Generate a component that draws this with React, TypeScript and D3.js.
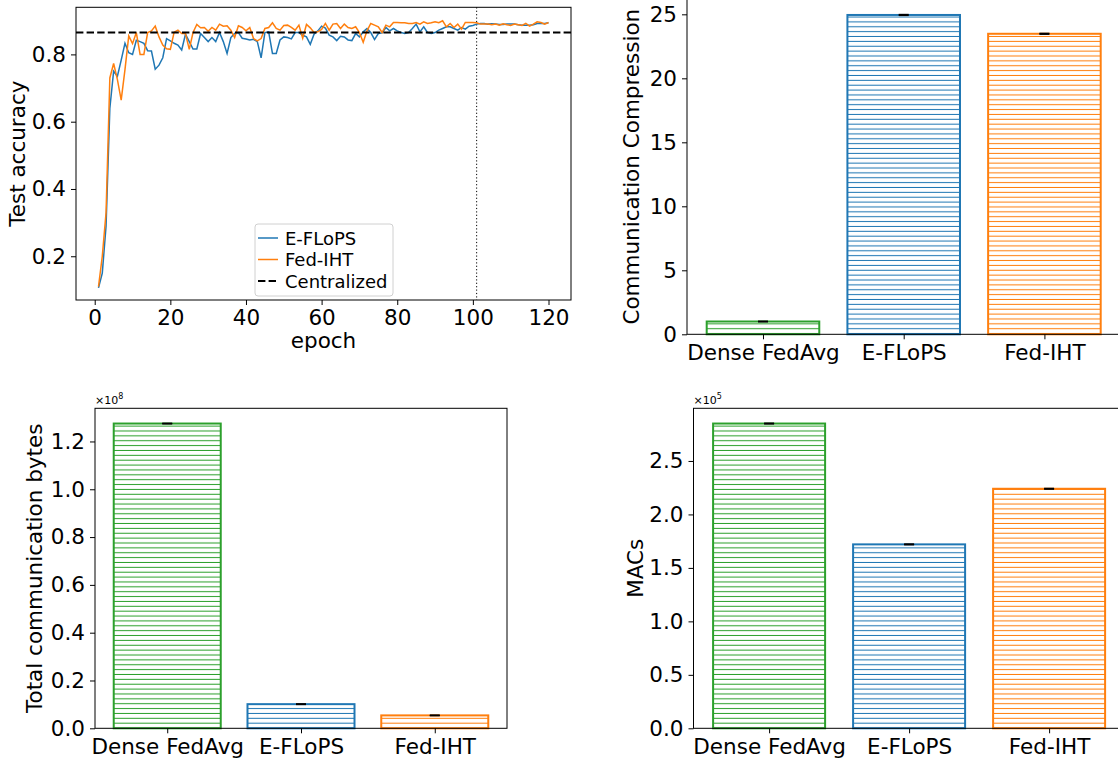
import React, { useEffect, useRef } from 'react';
import * as d3 from 'd3';

// accuracy per epoch (1..120)
const epochs = d3.range(1, 121);
const eflopsAcc = [
  0.106, 0.15, 0.29, 0.64, 0.75, 0.735, 0.783, 0.833, 0.805, 0.80,
  0.842, 0.838, 0.833, 0.811, 0.81, 0.756, 0.768, 0.79, 0.847, 0.84,
  0.833, 0.828, 0.813, 0.86, 0.838, 0.816, 0.816, 0.862, 0.85, 0.838,
  0.85, 0.838, 0.865, 0.838, 0.803, 0.85, 0.862, 0.865, 0.848, 0.846,
  0.843, 0.845, 0.838, 0.79, 0.865, 0.867, 0.803, 0.803, 0.843, 0.852,
  0.85, 0.846, 0.865, 0.865, 0.857, 0.852, 0.83, 0.86, 0.87, 0.884,
  0.878, 0.857, 0.852, 0.841, 0.854, 0.852, 0.843, 0.841, 0.862, 0.852,
  0.867, 0.877, 0.865, 0.844, 0.862, 0.864, 0.88, 0.87, 0.877, 0.87,
  0.865, 0.862, 0.865, 0.877, 0.89, 0.867, 0.882, 0.865, 0.862, 0.865,
  0.872, 0.877, 0.882, 0.882, 0.877, 0.872, 0.88, 0.875, 0.884, 0.886,
  0.89, 0.892, 0.892, 0.89, 0.891, 0.89, 0.889, 0.889, 0.89, 0.89,
  0.89, 0.888, 0.887, 0.887, 0.887, 0.888, 0.892, 0.892, 0.892, 0.894
];
const fedIhtAcc = [
  0.11, 0.20, 0.33, 0.73, 0.773, 0.725, 0.664, 0.755, 0.855, 0.832,
  0.865, 0.80, 0.80, 0.865, 0.87, 0.884, 0.852, 0.828, 0.817, 0.815,
  0.866, 0.872, 0.862, 0.862, 0.815, 0.865, 0.889, 0.879, 0.88, 0.869,
  0.88, 0.872, 0.89, 0.884, 0.885, 0.872, 0.85, 0.885, 0.88, 0.87,
  0.88, 0.847, 0.84, 0.847, 0.877, 0.88, 0.894, 0.877, 0.872, 0.886,
  0.887, 0.88, 0.872, 0.887, 0.848, 0.889, 0.879, 0.865, 0.867, 0.874,
  0.892, 0.872, 0.89, 0.892, 0.877, 0.89, 0.88, 0.877, 0.882, 0.865,
  0.836, 0.87, 0.892, 0.887, 0.882, 0.865, 0.887, 0.882, 0.895, 0.895,
  0.894, 0.894, 0.892, 0.892, 0.895, 0.89, 0.897, 0.892, 0.894, 0.897,
  0.894, 0.9, 0.882, 0.892, 0.88, 0.89, 0.875, 0.895, 0.895, 0.895,
  0.894, 0.89, 0.89, 0.89, 0.888, 0.89, 0.887, 0.891, 0.888, 0.886,
  0.89, 0.888, 0.886, 0.892, 0.884, 0.89, 0.897, 0.895, 0.89, 0.895
];
const centralizedAcc = 0.865;
const markerEpoch = 101;
const accTicks = [0.2, 0.4, 0.6, 0.8];
const epochTicks = [0, 20, 40, 60, 80, 100, 120];

const methods = ['Dense FedAvg', 'E-FLoPS', 'Fed-IHT'];
const methodColors = ['#2ca02c', '#1f77b4', '#ff7f0e'];
const compression = [1.0, 24.95, 23.48];
const compressionErr = [0.02, 0.03, 0.03];
const compressionTicks = [0, 5, 10, 15, 20, 25];
const totalBytes = [1.275e8, 0.101e8, 0.054e8];
const bytesErr = [0.001e8, 0.001e8, 0.001e8];
const bytesTicks = [0, 0.2e8, 0.4e8, 0.6e8, 0.8e8, 1.0e8, 1.2e8];
const macs = [2.85e5, 1.72e5, 2.24e5];
const macsErr = [0.003e5, 0.003e5, 0.003e5];
const macsTicks = [0, 0.5e5, 1.0e5, 1.5e5, 2.0e5, 2.5e5];

const FONT = 'DejaVu Sans, sans-serif';
const FS = 21.5;

function styleAxis(g) {
  g.select('.domain').remove();
  g.selectAll('line').attr('stroke', '#000').attr('stroke-width', 1);
  g.selectAll('text').attr('font-size', FS).attr('font-family', FONT).attr('fill', '#000');
}

function spines(g, left, right, top, bottom) {
  g.append('rect')
    .attr('x', left).attr('y', top)
    .attr('width', right - left).attr('height', bottom - top)
    .attr('fill', 'none').attr('stroke', '#000').attr('stroke-width', 1);
}

function drawAccuracy(svg) {
  const left = 76, right = 571, top = 7.3, bottom = 300;
  const x = d3.scaleLinear().domain([-4.95, 125.95]).range([left, right]);
  const y = d3.scaleLinear().domain([0.07, 0.94]).range([bottom, top]);
  const g = svg.append('g');

  g.append('line')
    .attr('x1', x(markerEpoch)).attr('x2', x(markerEpoch))
    .attr('y1', top).attr('y2', bottom)
    .attr('stroke', '#000').attr('stroke-width', 1).attr('stroke-dasharray', '1.2,2.2');

  const line = d3.line().x((d, i) => x(epochs[i])).y(d => y(d));
  g.append('path').datum(eflopsAcc).attr('d', line)
    .attr('fill', 'none').attr('stroke', '#1f77b4').attr('stroke-width', 1.5);
  g.append('path').datum(fedIhtAcc).attr('d', line)
    .attr('fill', 'none').attr('stroke', '#ff7f0e').attr('stroke-width', 1.5);

  g.append('line')
    .attr('x1', left).attr('x2', right)
    .attr('y1', y(centralizedAcc)).attr('y2', y(centralizedAcc))
    .attr('stroke', '#000').attr('stroke-width', 2).attr('stroke-dasharray', '7.4,3.2');

  g.append('g').attr('transform', 'translate(0,' + bottom + ')')
    .call(d3.axisBottom(x).tickValues(epochTicks).tickSize(5).tickPadding(5).tickFormat(d3.format('d')))
    .call(styleAxis);
  g.append('g').attr('transform', 'translate(' + left + ',0)')
    .call(d3.axisLeft(y).tickValues(accTicks).tickSize(5).tickPadding(5).tickFormat(d3.format('.1f')))
    .call(styleAxis);

  spines(g, left, right, top, bottom);

  g.append('text').attr('transform', 'translate(25,' + (top + bottom) / 2 + ') rotate(-90)')
    .attr('text-anchor', 'middle').attr('font-size', FS).attr('font-family', FONT).text('Test accuracy');
  g.append('text').attr('x', (left + right) / 2).attr('y', 348)
    .attr('text-anchor', 'middle').attr('font-size', FS).attr('font-family', FONT).text('epoch');

  // legend
  const lg = g.append('g');
  lg.append('rect').attr('x', 255).attr('y', 224).attr('width', 138).attr('height', 72).attr('rx', 3)
    .attr('fill', '#fff').attr('fill-opacity', 0.8).attr('stroke', '#d0d0d0').attr('stroke-width', 1);
  const items = [
    { label: 'E-FLoPS', color: '#1f77b4', dash: null, w: 1.5 },
    { label: 'Fed-IHT', color: '#ff7f0e', dash: null, w: 1.5 },
    { label: 'Centralized', color: '#000', dash: '7.4,3.2', w: 2 }
  ];
  items.forEach((it, i) => {
    const ry = 238 + i * 21.5;
    lg.append('line').attr('x1', 258).attr('x2', 278).attr('y1', ry).attr('y2', ry)
      .attr('stroke', it.color).attr('stroke-width', it.w).attr('stroke-dasharray', it.dash);
    lg.append('text').attr('x', 285).attr('y', ry + 6.5)
      .attr('font-size', 18).attr('font-family', FONT).text(it.label);
  });
}

function drawBars(svg, opts) {
  const { values, errs, left, right, top, bottom, ticks, fmt, label, labelX, offsetExp } = opts;
  const x = d3.scaleLinear().domain([-0.54, 2.54]).range([left, right]);
  const y = d3.scaleLinear().domain([0, d3.max(values) * 1.05]).range([bottom, top]);
  const bw = x(0.4) - x(0);
  const g = svg.append('g');

  values.forEach((v, i) => {
    g.append('rect')
      .attr('x', x(i) - bw).attr('y', y(v))
      .attr('width', 2 * bw).attr('height', bottom - y(v))
      .attr('fill', 'url(#hatch' + i + ')')
      .attr('stroke', methodColors[i]).attr('stroke-width', 2);
    const e = errs[i];
    g.append('line').attr('x1', x(i)).attr('x2', x(i)).attr('y1', y(v - e)).attr('y2', y(v + e))
      .attr('stroke', '#000').attr('stroke-width', 1.5);
    [v - e, v + e].forEach(c => {
      g.append('line').attr('x1', x(i) - 5).attr('x2', x(i) + 5).attr('y1', y(c)).attr('y2', y(c))
        .attr('stroke', '#000').attr('stroke-width', 1.5);
    });
  });

  g.append('g').attr('transform', 'translate(0,' + bottom + ')')
    .call(d3.axisBottom(x).tickValues([0, 1, 2]).tickSize(5).tickPadding(5).tickFormat(i => methods[i]))
    .call(styleAxis);
  g.append('g').attr('transform', 'translate(' + left + ',0)')
    .call(d3.axisLeft(y).tickValues(ticks).tickSize(5).tickPadding(5).tickFormat(fmt))
    .call(styleAxis);

  spines(g, left, right, top, bottom);

  g.append('text').attr('transform', 'translate(' + labelX + ',' + (top + bottom) / 2 + ') rotate(-90)')
    .attr('text-anchor', 'middle').attr('font-size', FS).attr('font-family', FONT).text(label);

  if (offsetExp) {
    const t = g.append('text').attr('x', left).attr('y', top - 4)
      .attr('font-size', 11).attr('font-family', FONT).text('×10');
    t.append('tspan').attr('dy', -5).attr('font-size', 8).text(offsetExp);
  }
}

function App() {
  const ref = useRef(null);

  useEffect(() => {
    const svg = d3.select(ref.current);
    svg.selectAll('*').remove();

    const defs = svg.append('defs');
    methodColors.forEach((c, i) => {
      const p = defs.append('pattern').attr('id', 'hatch' + i)
        .attr('patternUnits', 'userSpaceOnUse').attr('width', 8).attr('height', 4.87);
      p.append('line').attr('x1', 0).attr('x2', 8).attr('y1', 2.4).attr('y2', 2.4)
        .attr('stroke', c).attr('stroke-width', 1);
    });

    drawAccuracy(svg);

    drawBars(svg, {
      values: compression, errs: compressionErr,
      left: 687, right: 1120.4, top: -1, bottom: 334.3,
      ticks: compressionTicks, fmt: d3.format('d'),
      label: 'Communication Compression', labelX: 639, offsetExp: null
    });
    drawBars(svg, {
      values: totalBytes, errs: bytesErr,
      left: 95, right: 507, top: 408.3, bottom: 728.3,
      ticks: bytesTicks, fmt: d => (d / 1e8).toFixed(1),
      label: 'Total communication bytes', labelX: 42, offsetExp: '8'
    });
    drawBars(svg, {
      values: macs, errs: macsErr,
      left: 693.5, right: 1124.7, top: 408.3, bottom: 728.3,
      ticks: macsTicks, fmt: d => (d / 1e5).toFixed(1),
      label: 'MACs', labelX: 643, offsetExp: '5'
    });
  }, []);

  return (
    <svg ref={ref} width={1118} height={760}
      style={{ position: 'absolute', left: 0, top: 0, background: '#fff' }} />
  );
}

export default App;
